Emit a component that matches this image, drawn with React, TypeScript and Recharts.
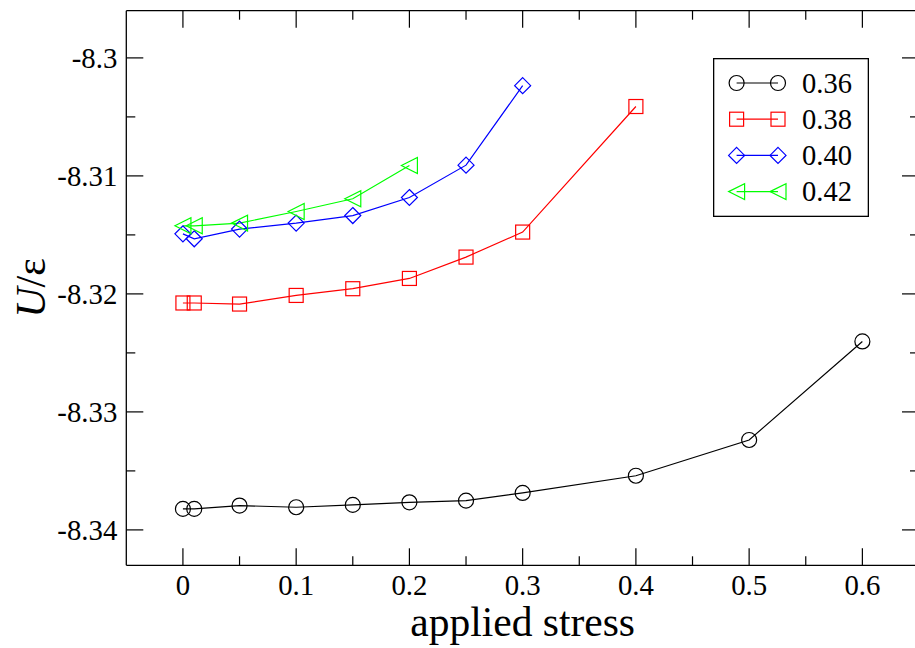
import React from 'react';
import { LineChart, Line, XAxis, YAxis, Legend, Label } from 'recharts';

// applied stress (x) and U/eps (y) for each series
const STRESS_036 = [0, 0.01, 0.05, 0.1, 0.15, 0.2, 0.25, 0.3, 0.4, 0.5, 0.6];
const U_036 = [-8.33822, -8.33822, -8.33794, -8.33808, -8.33788, -8.33766, -8.33752, -8.33687, -8.33541, -8.33238, -8.32403];

const STRESS_038 = [0, 0.01, 0.05, 0.1, 0.15, 0.2, 0.25, 0.3, 0.4];
const U_038 = [-8.32077, -8.32077, -8.32086, -8.32013, -8.31956, -8.31869, -8.31688, -8.31476, -8.30412];

const STRESS_040 = [0, 0.01, 0.05, 0.1, 0.15, 0.2, 0.25, 0.3];
const U_040 = [-8.31491, -8.31533, -8.31451, -8.314, -8.31336, -8.31183, -8.30909, -8.30235];

const STRESS_042 = [0, 0.01, 0.05, 0.1, 0.15, 0.2];
const U_042 = [-8.31423, -8.31423, -8.314, -8.31302, -8.31194, -8.30912];

const X_TICKS = [0, 0.05, 0.1, 0.15, 0.2, 0.25, 0.3, 0.35, 0.4, 0.45, 0.5, 0.55, 0.6];
const Y_TICKS = [-8.34, -8.335, -8.33, -8.325, -8.32, -8.315, -8.31, -8.305, -8.3];

const FONT = '"Liberation Serif", "Times New Roman", serif';

const toRows = (xs: number[], ys: number[]) => xs.map((x, i) => ({ x, u: ys[i] }));

const SERIES = [
  { name: '0.36', color: '#000000', shape: 'circle', data: toRows(STRESS_036, U_036) },
  { name: '0.38', color: '#ff0000', shape: 'square', data: toRows(STRESS_038, U_038) },
  { name: '0.40', color: '#0000ff', shape: 'diamond', data: toRows(STRESS_040, U_040) },
  { name: '0.42', color: '#00ff00', shape: 'triangle', data: toRows(STRESS_042, U_042) },
];

function Marker({ shape, cx, cy, color }: any) {
  const common = { fill: 'none', stroke: color, strokeWidth: 1.2 };
  if (shape === 'circle') return <circle cx={cx} cy={cy} r={7.5} {...common} />;
  if (shape === 'square') return <rect x={cx - 7} y={cy - 7} width={14} height={14} {...common} />;
  if (shape === 'diamond')
    return <polygon points={`${cx},${cy - 8} ${cx + 8},${cy} ${cx},${cy + 8} ${cx - 8},${cy}`} {...common} />;
  return <polygon points={`${cx - 8},${cy} ${cx + 8},${cy - 8} ${cx + 8},${cy + 8}`} {...common} />;
}

// ticks point inward, major ones are longer; labels only on bottom/left
function AxisTick(props: any) {
  const { x, y, payload, side } = props;
  const v = payload.value;
  const vertical = side === 'left' || side === 'right';
  const major = vertical ? Math.round(v * 200) % 2 === 0 : Math.round(v * 20) % 2 === 0;
  const len = major ? 17 : 9;
  let line;
  if (side === 'bottom') line = <line x1={x} y1={y} x2={x} y2={y - len} />;
  else if (side === 'top') line = <line x1={x} y1={y} x2={x} y2={y + len} />;
  else if (side === 'left') line = <line x1={x} y1={y} x2={x + len} y2={y} />;
  else line = <line x1={x} y1={y} x2={x - len} y2={y} />;
  return (
    <g>
      <g stroke="#000" strokeWidth={1.2}>{line}</g>
      {major && side === 'bottom' && (
        <text x={x} y={y + 29.7} textAnchor="middle" fontSize={28.8} fontFamily={FONT} fill="#000">
          {String(v)}
        </text>
      )}
      {major && side === 'left' && (
        <text x={x - 9} y={y + 10.5} textAnchor="end" fontSize={28.8} fontFamily={FONT} fill="#000">
          {String(v)}
        </text>
      )}
    </g>
  );
}

function LegendBox({ payload }: any) {
  return (
    <svg width={156} height={159} style={{ display: 'block' }}>
      <rect x={0.65} y={0.65} width={154.7} height={157.7} fill="#fff" stroke="#000" strokeWidth={1.3} />
      {(payload || []).map((entry: any, i: number) => {
        const s = SERIES.find((d) => d.name === entry.value) || SERIES[i];
        const cy = 25 + i * 36.2;
        return (
          <g key={s.name}>
            <line x1={23.6} y1={cy} x2={65} y2={cy} stroke={s.color} strokeWidth={1.2} />
            <Marker shape={s.shape} cx={23.6} cy={cy} color={s.color} />
            <Marker shape={s.shape} cx={65} cy={cy} color={s.color} />
            <text x={89} y={cy + 9.5} fontSize={28.5} fontFamily={FONT} fill="#000">
              {s.name}
            </text>
          </g>
        );
      })}
    </svg>
  );
}

export default function App() {
  return (
    <div style={{ position: 'absolute', left: 0, top: 0, width: 915, height: 648, overflow: 'hidden', background: '#fff' }}>
      <LineChart width={924} height={648} margin={{ top: 9.7, left: 125.3, right: 4, bottom: 81.7 }}>
        <XAxis
          xAxisId="b"
          dataKey="x"
          type="number"
          domain={[-0.05, 0.65]}
          ticks={X_TICKS}
          interval={0}
          height={1}
          tickSize={0}
          tickMargin={0}
          tickLine={false}
          axisLine={{ stroke: '#000', strokeWidth: 1.3 }}
          tick={<AxisTick side="bottom" />}
          allowDataOverflow
        >
          <Label
            content={({ viewBox }: any) => (
              <text
                x={viewBox.x + viewBox.width / 2}
                y={viewBox.y + 70.4}
                textAnchor="middle"
                fontSize={41.5}
                fontFamily={FONT}
                fill="#000"
              >
                applied stress
              </text>
            )}
          />
        </XAxis>
        <XAxis
          xAxisId="t"
          orientation="top"
          dataKey="x"
          type="number"
          domain={[-0.05, 0.65]}
          ticks={X_TICKS}
          interval={0}
          height={1}
          tickSize={0}
          tickMargin={0}
          tickLine={false}
          axisLine={{ stroke: '#000', strokeWidth: 1.3 }}
          tick={<AxisTick side="top" />}
          allowDataOverflow
        />
        <YAxis
          yAxisId="l"
          dataKey="u"
          type="number"
          domain={[-8.343, -8.296]}
          ticks={Y_TICKS}
          interval={0}
          width={1}
          tickSize={0}
          tickMargin={0}
          tickLine={false}
          axisLine={{ stroke: '#000', strokeWidth: 1.3 }}
          tick={<AxisTick side="left" />}
          allowDataOverflow
        >
          <Label
            content={({ viewBox }: any) => {
              const cx = viewBox.x + viewBox.width - 95;
              const cy = viewBox.y + viewBox.height / 2;
              return (
                <text
                  x={cx}
                  y={cy}
                  transform={`rotate(-90, ${cx}, ${cy})`}
                  textAnchor="middle"
                  dominantBaseline="central"
                  fontSize={42}
                  fontFamily={FONT}
                  fill="#000"
                >
                  <tspan fontStyle="italic">U</tspan>/ε
                </text>
              );
            }}
          />
        </YAxis>
        <YAxis
          yAxisId="r"
          orientation="right"
          dataKey="u"
          type="number"
          domain={[-8.343, -8.296]}
          ticks={Y_TICKS}
          interval={0}
          width={1}
          tickSize={0}
          tickMargin={0}
          tickLine={false}
          axisLine={{ stroke: '#000', strokeWidth: 1.3 }}
          tick={<AxisTick side="right" />}
          allowDataOverflow
        />
        {SERIES.map((s) => (
          <Line
            key={s.name}
            name={s.name}
            data={s.data}
            dataKey="u"
            xAxisId="b"
            yAxisId="l"
            type="linear"
            stroke={s.color}
            strokeWidth={1.2}
            isAnimationActive={false}
            dot={(p: any) => (
              <g key={`${s.name}-${p.index}`}>
                <Marker shape={s.shape} cx={p.cx} cy={p.cy} color={s.color} />
              </g>
            )}
            activeDot={false}
          />
        ))}
        <Legend
          layout="vertical"
          align="center"
          verticalAlign="middle"
          width={156}
          height={159}
          wrapperStyle={{ left: 712.7, top: 58.3, width: 156, height: 159 }}
          content={<LegendBox />}
        />
      </LineChart>
    </div>
  );
}
